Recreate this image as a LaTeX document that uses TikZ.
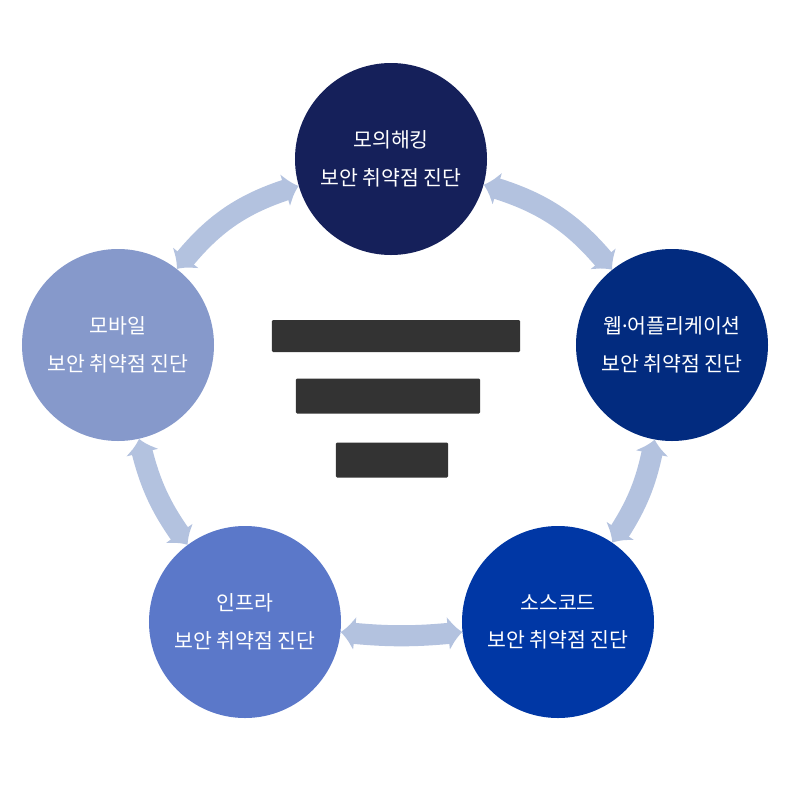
\documentclass[tikz,border=0pt]{standalone}
\usepackage{fontspec}
\setmainfont{Noto Sans CJK KR}
\newfontfamily\latinfont{Noto Sans}
\usepackage{tikz}
\usetikzlibrary{arrows.meta, bending, backgrounds}

\definecolor{topNavy}{HTML}{15205A}
\definecolor{webBlue}{HTML}{022B7F}
\definecolor{mobBlue}{HTML}{8699CB}
\definecolor{infBlue}{HTML}{5B78C9}
\definecolor{srcBlue}{HTML}{0037A5}
\definecolor{bandBlue}{HTML}{B3C2DF}
\definecolor{barGray}{HTML}{333333}

\begin{document}
\begin{tikzpicture}[x=0.03cm, y=-0.03cm,
  stage/.style={circle, minimum size=5.76cm, inner sep=0pt, text=white, align=center, font=\fontsize{17.5}{32}\selectfont},
  band/.style={draw=bandBlue, line width=18pt, {Latex[length=12pt,width=30pt,flex]}-{Latex[length=12pt,width=30pt,flex]}},
  txtbar/.style={fill=barGray, inner sep=0pt, rounded corners=1pt}]
\useasboundingbox (0,0) rectangle (800,800);

% Draw the five circles
\node[stage, fill=topNavy] (hack) at (391,159) {모의해킹\\보안 취약점 진단};
\node[stage, fill=webBlue] (web) at (672,345) {웹{\latinfont ·}어플리케이션\\보안 취약점 진단};
\node[stage, fill=srcBlue] (src) at (558,622) {소스코드\\보안 취약점 진단};
\node[stage, fill=infBlue] (infra) at (245,622) {인프라\\보안 취약점 진단};
\node[stage, fill=mobBlue] (mobile) at (118,345) {모바일\\보안 취약점 진단};

% Draw the bands between circles
\begin{scope}[on background layer]
\draw[band] (hack) to[bend left=18] (web);
\draw[band] (web) to[bend left=12] (src);
\draw[band] (src) to[bend left=6] (infra);
\draw[band] (infra) to[bend left=12] (mobile);
\draw[band] (mobile) to[bend left=18] (hack);
\end{scope}

% Center text (unreadable)
\node[txtbar, minimum width=7.44cm, minimum height=0.96cm] (line1) at (396,336) {};
\node[txtbar, minimum width=5.52cm, minimum height=1.05cm] (line2) at (388,396) {};
\node[txtbar, minimum width=3.36cm, minimum height=1.05cm] (line3) at (392,460) {};

\end{tikzpicture}
\end{document}
